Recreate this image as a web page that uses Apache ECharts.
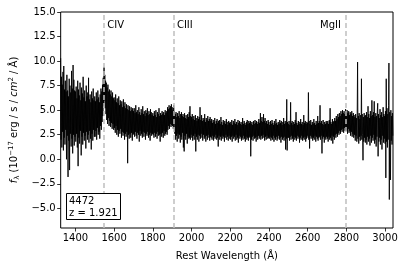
<!DOCTYPE html>
<html>
<head>
<meta charset="utf-8">
<script src="https://cdn.jsdelivr.net/npm/echarts@6/dist/echarts.min.js"></script>
<style>html,body{margin:0;padding:0;background:#fff}#c{width:404px;height:268px}</style>
</head>
<body>
<div id="c"></div>
<script>
const waveStart = 1324;
const waveStep = 2;
const flux1324 = [10.3,2.0,8.4,1.2,7.6,2.8,8.9,0.9,9.5,2.2,7.1,1.5,8.0,3.0,6.9,0.0,8.6,2.4,7.0,-1.8,6.4,1.9,8.2,-1.1,7.5,2.6,6.8,1.3,9.0,2.1,7.2,0.6,9.6,2.5,8.1,1.4,7.0,2.3];
const flux1400 = [6.9,1.8,7.4,2.6,6.2,1.2,8.0,-0.7,7.1,2.2,6.5,1.6,7.8,2.9,6.0,0.4,7.3,2.3,6.7,1.5,8.4,2.7,6.3,1.9,7.0,2.4,5.9,1.1,7.5,2.8,6.4,2.0,6.8,2.5,8.3,1.7,6.1,2.9,6.6,2.1,5.8,1.0,6.9,2.6,6.2,1.9,7.2,3.0,6.0,2.3];
const flux1500 = [6.4,2.3,5.9,2.9,6.8,2.0,6.1,3.2,7.0,2.5,6.3,2.8,5.8,2.1,6.6,3.4,7.2,3.0,6.9,3.8,7.6,4.4,8.3,5.4,9.4,6.0,8.6,5.2,8.0,4.6,7.8,4.0,7.3,3.6,7.6,4.2,6.9,3.4,7.1,3.9,6.6,3.3,7.0,3.7,6.4,3.1,6.8,3.6,6.2,3.0];
const flux1600 = [6.3,3.2,6.0,2.7,6.6,3.4,5.8,2.5,6.2,3.0,5.7,2.3,6.4,2.9,5.5,2.6,6.0,3.1,5.6,2.2,5.9,2.8,5.3,2.4,6.1,2.7,5.4,2.0,5.8,2.6,5.2,2.3,5.6,2.8,5.1,-0.4,5.5,2.5,5.0,2.1,5.4,2.6,4.9,2.2,5.3,2.7,5.0,1.9,5.2,2.5];
const flux1700 = [4.9,2.6,5.2,2.3,4.7,2.8,5.5,2.4,4.8,2.1,5.0,2.7,4.6,2.5,5.3,1.8,4.8,2.9,4.5,2.4,5.1,2.6,4.7,2.2,5.4,2.8,4.6,2.3,4.9,2.7,4.4,2.0,5.0,2.6,4.7,2.4,5.2,2.8,4.5,2.2,4.9,2.5,4.6,1.9,5.1,2.7,4.8,2.4,4.5,2.6];
const flux1800 = [4.7,2.5,4.4,2.2,4.9,2.7,4.5,2.3,5.0,2.6,4.3,2.1,4.8,2.8,4.6,2.4,5.2,2.5,4.4,1.8,4.7,2.6,4.5,2.3,4.9,2.7,4.6,2.2,4.8,2.9,4.5,2.4,5.0,2.6,4.7,2.8,4.9,2.5,5.3,3.0,5.1,3.4,5.5,3.1,5.2,3.6,5.4,3.3,5.6,3.5];
const flux1900 = [5.3,3.4,5.0,3.1,5.5,3.6,4.9,2.6,4.6,2.0,4.8,2.4,4.3,1.8,4.7,2.6,4.4,2.1,4.9,2.5,4.2,1.7,4.6,2.3,4.8,2.0,4.4,2.7,4.6,1.2,4.3,0.8,4.7,2.4,4.2,2.0,4.5,2.6,4.1,1.6,4.6,2.3,4.3,2.1,4.8,2.2,5.4,2.0,4.4,2.5];
const flux2000 = [4.3,2.2,4.6,1.9,4.1,2.4,4.4,2.0,4.0,2.6,4.5,0.8,4.2,2.3,3.9,2.0,4.4,2.5,4.1,1.8,4.3,2.4,5.3,2.1,4.0,2.6,4.5,2.2,3.9,1.9,4.2,2.5,4.0,2.1,4.6,2.3,3.8,1.8,4.2,2.4,4.0,2.0,4.4,2.5,3.9,2.2,4.1,1.9,4.3,2.3];
const flux2100 = [3.9,2.2,4.1,2.0,3.7,2.4,4.0,1.9,3.8,2.3,4.2,2.1,3.6,2.5,3.9,2.0,4.1,2.2,3.7,1.3,3.9,2.4,4.0,2.0,3.6,2.3,4.3,1.9,3.8,2.4,3.5,2.1,4.0,2.3,3.7,1.8,3.9,2.2,3.6,2.5,4.1,2.0,3.8,2.3,3.5,1.9,3.9,2.4,3.7,2.1];
const flux2200 = [3.8,2.0,3.6,2.3,4.0,1.8,3.5,2.4,3.9,2.1,3.7,2.3,4.1,1.9,3.6,2.5,3.8,2.0,3.5,2.2,4.0,1.7,3.7,2.4,3.9,2.1,3.6,2.3,3.8,1.9,3.5,2.2,4.2,2.0,3.6,2.4,3.9,2.1,3.7,1.8,3.5,2.3,3.8,2.0,4.0,2.2,3.6,1.9,3.9,2.3];
const flux2300 = [3.7,2.2,3.9,0.3,3.6,2.0,3.8,2.3,3.5,1.9,3.9,2.4,3.6,2.1,4.0,2.2,3.7,1.8,3.9,2.3,3.6,2.0,3.8,2.4,4.1,2.1,3.7,2.3,4.7,2.0,3.9,2.4,4.3,2.1,3.8,2.5,4.6,2.2,3.9,1.9,4.2,2.3,3.7,2.0,3.9,2.4,3.6,2.1,4.0,2.2];
const flux2400 = [3.8,2.1,3.5,2.3,3.9,1.9,3.6,2.2,4.0,2.0,3.7,2.4,3.5,1.8,3.9,2.2,3.6,2.0,4.1,2.3,3.7,1.9,3.5,2.1,3.8,2.4,3.6,2.0,4.0,2.2,3.7,1.7,3.9,2.3,3.5,2.0,3.8,2.2,4.2,1.9,3.6,2.3,3.9,1.0,3.7,2.1,6.1,0.9,3.8,2.2];
const flux2500 = [3.6,2.2,3.9,1.9,3.5,2.3,5.8,2.0,3.7,2.4,3.9,2.1,3.5,1.8,3.8,2.3,3.6,2.0,4.0,2.2,4.8,1.9,3.7,2.4,3.5,2.1,3.9,2.3,3.6,1.7,3.8,2.2,4.1,2.0,3.6,2.4,3.8,1.9,3.5,2.2,4.5,2.0,3.7,2.3,3.9,1.8,3.6,2.1,3.8,2.4];
const flux2600 = [3.7,2.2,6.8,2.0,3.9,1.1,3.6,2.4,4.0,2.1,3.5,2.3,3.8,1.9,3.6,2.2,4.1,2.0,3.7,2.4,3.5,1.8,3.9,2.3,3.6,2.1,4.4,1.9,3.7,2.2,3.9,2.3,5.5,2.0,3.7,2.4,3.9,0.6,3.6,2.1,4.0,2.3,3.5,1.7,3.8,2.2,3.6,2.0,3.9,2.3];
const flux2700 = [3.7,2.1,3.9,1.8,3.6,2.3,4.0,2.0,5.2,2.2,3.8,1.9,3.6,2.4,4.1,1.6,3.8,2.3,3.9,2.0,4.2,2.5,3.9,2.2,4.4,2.6,4.1,2.3,4.6,2.7,4.3,2.5,4.7,2.9,4.4,2.6,4.9,3.0,4.6,2.8,5.0,3.1,4.7,2.7,4.9,3.2,4.6,2.9,5.1,3.0];
const flux2800 = [4.8,2.9,5.0,2.6,4.7,3.1,4.9,2.7,4.5,2.9,4.8,2.4,4.6,2.8,4.9,2.3,4.4,2.6,4.7,2.2,4.5,2.5,4.3,1.9,4.6,2.4,4.2,1.8,4.5,9.9,2.1,4.4,1.6,4.7,2.3,4.1,1.9,4.5,2.4,8.2,2.0,4.6,2.5,-0.1,4.3,1.8,4.7,2.2,4.4,1.7];
const flux2900 = [4.5,2.0,4.8,1.5,4.3,2.3,5.4,1.8,4.6,2.1,4.2,1.4,4.9,2.4,4.4,1.7,6.0,2.2,4.5,1.9,4.8,2.5,5.9,1.6,4.3,2.0,4.7,1.3,4.4,2.3,4.9,5.7,0.3,4.6,1.8,4.2,2.2,5.1,1.5,4.5,2.0,4.8,1.0,4.3,2.4,5.3,1.7,4.6,2.1,4.4];
const flux3000 = [1.6,4.9,-1.9,8.2,1.8,5.2,1.2,4.6,2.0,5.5,9.8,-4.1,4.8,1.4,-2.1,5.0,1.9,4.4,1.5,4.7,2.4];

// Emission lines
const lineNames = ['CIV', 'CIII', 'MgII'];
const lineWaves = [1549, 1909, 2798];

// Axis ticks
const xTicks = [1400, 1600, 1800, 2000, 2200, 2400, 2600, 2800, 3000];
const yTicks = [-5, -2.5, 0, 2.5, 5, 7.5, 10, 12.5, 15];

const objectId = '4472';
const redshift = '1.921';

const flux = [].concat(flux1324, flux1400, flux1500, flux1600, flux1700, flux1800, flux1900,
  flux2000, flux2100, flux2200, flux2300, flux2400, flux2500, flux2600, flux2700, flux2800,
  flux2900, flux3000);
const data = flux.map((f, i) => [waveStart + waveStep * i, f]);

const FONT = 'DejaVu Sans';
const chart = echarts.init(document.getElementById('c'), null, {renderer: 'canvas'});
const fmtY = v => (v < 0 ? '\u2212' : '') + Math.abs(v).toFixed(1);

chart.setOption({
  animation: false,
  backgroundColor: '#fff',
  textStyle: {fontFamily: FONT},
  grid: {left: 59, right: 11, top: 12, bottom: 40, show: true, borderColor: '#000', borderWidth: 1, backgroundColor: 'transparent'},
  title: {
    text: objectId + '\nz = ' + redshift,
    left: 66, top: 193,
    padding: [2, 3, 1, 3],
    borderColor: '#000', borderWidth: 1, backgroundColor: '#fff',
    textStyle: {fontFamily: FONT, fontSize: 10, fontWeight: 'normal', color: '#000', lineHeight: 12}
  },
  xAxis: {
    type: 'value', min: 1324, max: 3041,
    name: 'Rest Wavelength (Å)', nameLocation: 'middle', nameGap: 23,
    nameTextStyle: {fontFamily: FONT, fontSize: 10, color: '#000'},
    axisLine: {show: false, onZero: false},
    splitLine: {show: false},
    axisTick: {show: true, inside: false, length: 3.5, lineStyle: {color: '#000', width: 0.8}, customValues: xTicks},
    axisLabel: {fontFamily: FONT, fontSize: 10, color: '#000', margin: 5, customValues: xTicks, formatter: v => String(v)}
  },
  yAxis: {
    type: 'value', min: -7, max: 15,
    name: '{i|f}{s|λ} (10{p|−17} erg / s / {i|cm}{p|2} / Å)',
    nameLocation: 'middle', nameRotate: 90, nameGap: 35,
    nameTextStyle: {
      fontFamily: FONT, fontSize: 10, color: '#000',
      rich: {
        i: {fontFamily: FONT, fontSize: 10, fontStyle: 'italic', color: '#000'},
        s: {fontFamily: FONT, fontSize: 7, color: '#000', padding: [5, 0, 0, 0]},
        p: {fontFamily: FONT, fontSize: 7, color: '#000', padding: [0, 0, 6, 0]}
      }
    },
    axisLine: {show: false, onZero: false},
    splitLine: {show: false},
    axisTick: {show: true, inside: false, length: 3.5, lineStyle: {color: '#000', width: 0.8}, customValues: yTicks},
    axisLabel: {fontFamily: FONT, fontSize: 10, color: '#000', margin: 5, customValues: yTicks, formatter: fmtY}
  },
  series: [{
    type: 'line',
    data: data,
    showSymbol: false,
    symbol: 'none',
    sampling: null,
    lineStyle: {color: '#000', width: 0.9},
    z: 2,
    markLine: {
      silent: true,
      symbol: 'none',
      label: {show: false},
      lineStyle: {color: '#bfbfbf', width: 1.5, type: [5, 3]},
      data: lineWaves.map(w => ({xAxis: w}))
    }
  }]
});

// Line labels positioned through the x scale
const gridTop = 12;
const graphics = lineNames.map((name, k) => {
  const px = chart.convertToPixel({xAxisIndex: 0}, lineWaves[k]);
  const rightSide = k < 2;
  return {
    type: 'text',
    x: rightSide ? px + 3 : px - 5,
    y: gridTop + 8,
    style: {text: name, fontFamily: FONT, fontSize: 10, fill: '#000', align: rightSide ? 'left' : 'right', verticalAlign: 'top'}
  };
});
chart.setOption({graphic: graphics});
</script>
</body>
</html>
